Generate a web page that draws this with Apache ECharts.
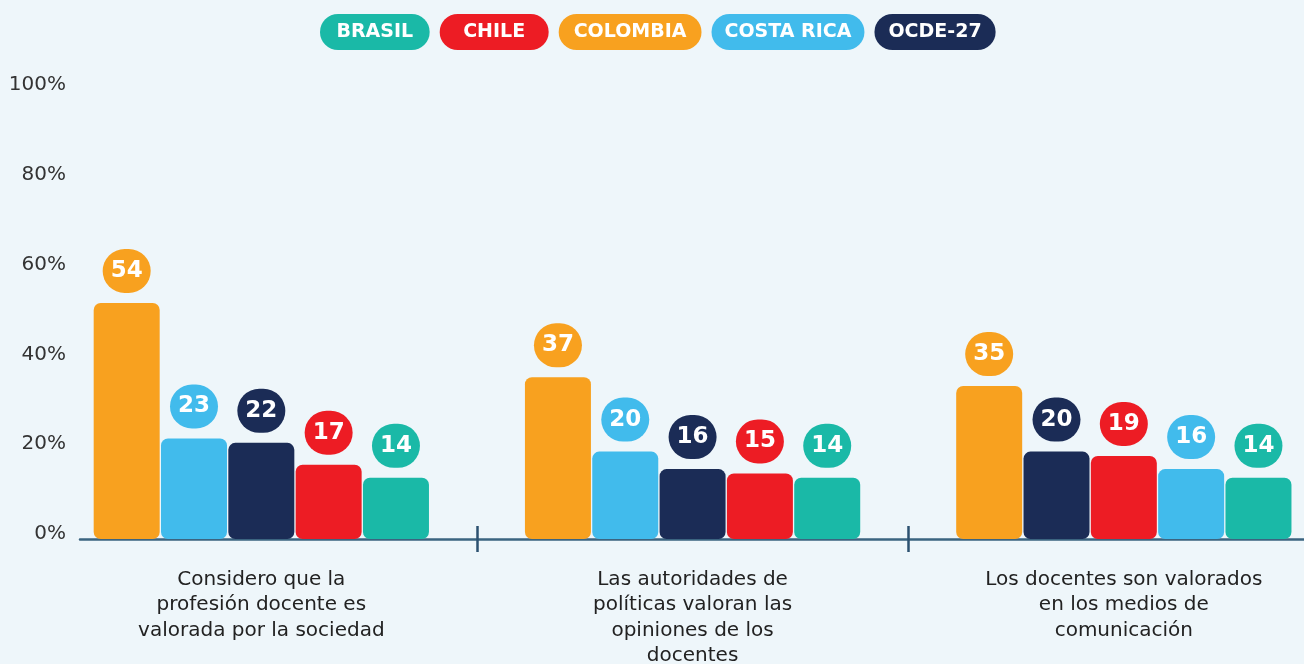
<!DOCTYPE html>
<html>
<head>
<meta charset="utf-8">
<script src="https://cdn.jsdelivr.net/npm/echarts@6/dist/echarts.min.js"></script>
<style>
  html, body { margin: 0; padding: 0; background: #eef6fa; }
  #chart { width: 1304px; height: 664px; }
</style>
</head>
<body>
<div id="chart"></div>
<script>
const categories = [
  "Considero que la\nprofesión docente es\nvalorada por la sociedad",
  "Las autoridades de\npolíticas valoran las\nopiniones de los\ndocentes",
  "Los docentes son valorados\nen los medios de\ncomunicación",
];
const countries = ["BRASIL", "CHILE", "COLOMBIA", "COSTA RICA", "OCDE-27"];
const countryColors = ["#1ab9a7", "#ed1c24", "#f8a11f", "#41bbec", "#1b2c56"];
const brasil = [14, 14, 14];
const chile = [17, 15, 19];
const colombia = [54, 37, 35];
const costaRica = [23, 20, 16];
const ocde = [22, 16, 20];
const yTicks = [0, 20, 40, 60, 80, 100];

const valuesByCountry = [brasil, chile, colombia, costaRica, ocde];
const pillPadX = [16.5, 23.5, 15, 13, 14];
const font = "DejaVu Sans";

// each group is sorted high -> low, so series k holds the k-th largest bar of every group
const rankSeries = countries.map((_, rank) => ({
  type: "bar",
  name: "rank" + rank,
  xAxisIndex: 0,
  yAxisIndex: 0,
  barWidth: 66,
  barGap: "2%",
  itemStyle: { borderRadius: 7 },
  label: {
    show: true,
    position: "top",
    distance: 10,
    color: "#fff",
    fontFamily: font,
    fontWeight: "bold",
    fontSize: 23,
    lineHeight: 24,
    padding: [10, 8, 10, 8],
    borderRadius: 22,
  },
  data: categories.map((_, g) => {
    const order = countries.map((c, i) => i).sort((a, b) => valuesByCountry[b][g] - valuesByCountry[a][g]);
    const idx = order[rank];
    return {
      value: valuesByCountry[idx][g],
      itemStyle: { color: countryColors[idx] },
      label: { backgroundColor: countryColors[idx] },
    };
  }),
}));

// empty series only to feed the legend pills
const legendSeries = countries.map((name, i) => ({
  type: "line",
  name,
  xAxisIndex: 1,
  yAxisIndex: 1,
  data: [],
  itemStyle: { color: countryColors[i] },
}));

const tickStyle = { color: "#2c5170", width: 2.5 };
const bare = { axisLine: { show: false }, axisTick: { show: false }, axisLabel: { show: false }, splitLine: { show: false } };

const chart = echarts.init(document.getElementById("chart"));
chart.setOption({
  backgroundColor: "#eef6fa",
  animation: false,
  legend: {
    top: 9,
    left: 310,
    icon: "none",
    itemWidth: 0,
    itemGap: 5,
    selectedMode: false,
    data: countries.map((name, i) => ({
      name,
      textStyle: {
        color: "#fff",
        fontFamily: font,
        fontWeight: "bold",
        fontSize: 19,
        lineHeight: 20,
        backgroundColor: countryColors[i],
        borderRadius: 18,
        padding: [8, pillPadX[i], 8, pillPadX[i]],
      },
    })),
  },
  grid: [
    { left: 45.7, width: 1293.75, top: 102, bottom: 125, outerBoundsMode: "none" },
    { left: 80, right: 0, top: 85, bottom: 130, outerBoundsMode: "none" },
    { left: 80, right: 0, top: 102, bottom: 125, outerBoundsMode: "none" },
  ],
  xAxis: [
    {
      type: "category",
      gridIndex: 0,
      position: "bottom",
      data: categories,
      axisLine: { show: false },
      axisTick: { show: true, length: 13, interval: (i) => i > 0, lineStyle: tickStyle },
      axisLabel: {
        interval: 0,
        margin: 28,
        color: "#222",
        fontFamily: font,
        fontSize: 20,
        lineHeight: 25.5,
        align: "center",
      },
    },
    { type: "value", gridIndex: 1, min: 0, max: 1, ...bare },
    {
      type: "category",
      gridIndex: 0,
      position: "bottom",
      data: categories,
      axisLine: { show: false },
      axisTick: { show: true, inside: true, length: 13, interval: (i) => i > 0, lineStyle: tickStyle },
      axisLabel: { show: false },
    },
    {
      type: "value",
      gridIndex: 2,
      position: "bottom",
      min: 0,
      max: 1,
      ...bare,
      axisLine: { show: true, lineStyle: { color: "#3b6480", width: 2.5 } },
    },
  ],
  yAxis: [
    { type: "value", gridIndex: 0, min: 0, max: 100, show: false },
    {
      type: "value",
      gridIndex: 1,
      min: yTicks[0],
      max: yTicks[yTicks.length - 1],
      interval: 20,
      axisLine: { show: false },
      axisTick: { show: false },
      splitLine: { show: false },
      axisLabel: { margin: 14, color: "#333", fontFamily: font, fontSize: 20, formatter: "{value}%" },
    },
    { type: "value", gridIndex: 2, min: 0, max: 1, show: false },
  ],
  series: [...rankSeries, ...legendSeries],
});
</script>
</body>
</html>
